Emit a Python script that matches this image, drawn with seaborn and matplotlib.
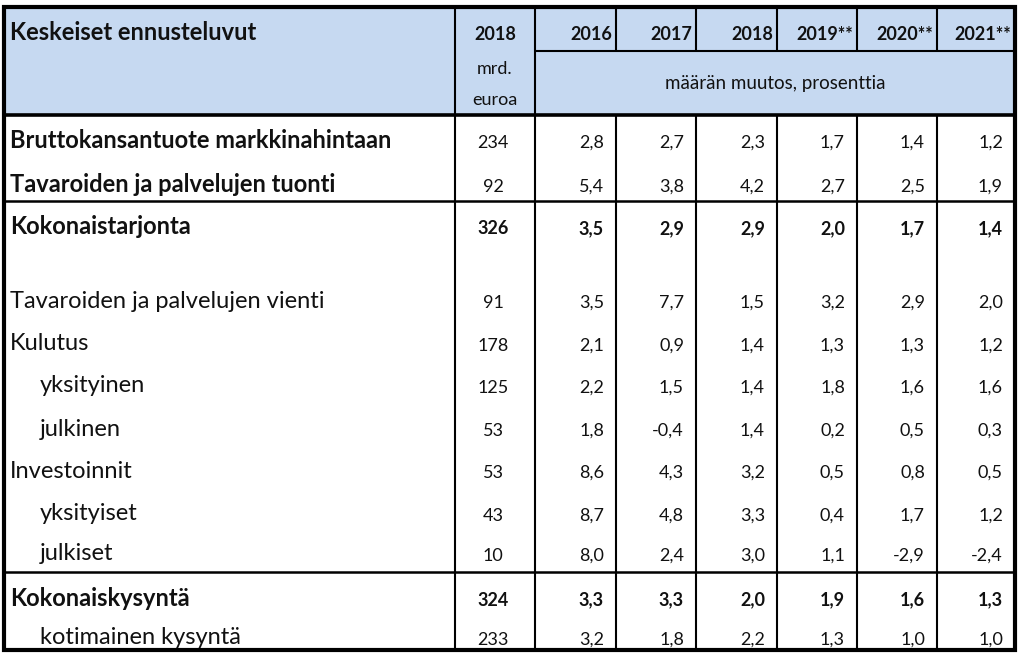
"""
Keskeiset ennusteluvut -taulukko (Excel-tyylinen) seabornilla / matplotlibilla.
"""

import matplotlib
matplotlib.use("Agg")
import matplotlib.pyplot as plt
from matplotlib.patches import Rectangle
import seaborn as sns

# --- data ---------------------------------------------------------------
title = "Keskeiset ennusteluvut"
years = ["2016", "2017", "2018", "2019**", "2020**", "2021**"]
level_year = "2018"
level_unit = ["mrd.", "euroa"]
subheader = "määrän muutos, prosenttia"

row_labels = [
    "Bruttokansantuote markkinahintaan",
    "Tavaroiden ja palvelujen tuonti",
    "Kokonaistarjonta",
    "",
    "Tavaroiden ja palvelujen vienti",
    "Kulutus",
    "yksityinen",
    "julkinen",
    "Investoinnit",
    "yksityiset",
    "julkiset",
    "Kokonaiskysyntä",
    "kotimainen kysyntä",
]
level_2018 = [234, 92, 326, None, 91, 178, 125, 53, 53, 43, 10, 324, 233]
growth = [
    [2.8, 2.7, 2.3, 1.7, 1.4, 1.2],
    [5.4, 3.8, 4.2, 2.7, 2.5, 1.9],
    [3.5, 2.9, 2.9, 2.0, 1.7, 1.4],
    None,
    [3.5, 7.7, 1.5, 3.2, 2.9, 2.0],
    [2.1, 0.9, 1.4, 1.3, 1.3, 1.2],
    [2.2, 1.5, 1.4, 1.8, 1.6, 1.6],
    [1.8, -0.4, 1.4, 0.2, 0.5, 0.3],
    [8.6, 4.3, 3.2, 0.5, 0.8, 0.5],
    [8.7, 4.8, 3.3, 0.4, 1.7, 1.2],
    [8.0, 2.4, 3.0, 1.1, -2.9, -2.4],
    [3.3, 3.3, 2.0, 1.9, 1.6, 1.3],
    [3.2, 1.8, 2.2, 1.3, 1.0, 1.0],
]
bold_labels = ["Bruttokansantuote markkinahintaan", "Tavaroiden ja palvelujen tuonti",
               "Kokonaistarjonta", "Kokonaiskysyntä"]
bold_numbers = ["Kokonaistarjonta", "Kokonaiskysyntä"]
indented = ["yksityinen", "julkinen", "yksityiset", "julkiset", "kotimainen kysyntä"]

# --- layout (pixels) ----------------------------------------------------
W, H = 1023, 664
left, right, top, bottom = 4, 1015, 7, 650
col_edges = [left, 455, 535, 616, 696, 777, 857, 937, right]
year_row_bottom = 51
header_bottom = 115
row_y = [141, 185, 227, 265, 301, 344, 386, 429, 471, 514, 554, 598, 638]
section_lines = [201, 572]

HEADER_BLUE = "#C6D9F1"
TEXT = "#111111"


def fmt(v):
    return f"{v:.1f}".replace(".", ",")


def main():
    sns.set_theme(style="white")
    plt.rcParams["font.family"] = ["Lato", "DejaVu Sans"]

    fig = plt.figure(figsize=(W / 100, H / 100), dpi=100)
    ax = fig.add_axes([0, 0, 1, 1])
    ax.set_xlim(0, W)
    ax.set_ylim(H, 0)
    ax.axis("off")

    # header fill
    ax.add_patch(Rectangle((left, top), right - left, header_bottom - top,
                           facecolor=HEADER_BLUE, edgecolor="none", zorder=0))

    lw_thin = 1.5
    lw_mid = 1.8
    lw_thick = 2.6

    # vertical lines
    for i, x in enumerate(col_edges[1:-1], start=1):
        if i <= 2:
            ax.plot([x, x], [top, bottom], color="black", lw=lw_thin, solid_capstyle="butt")
        else:
            ax.plot([x, x], [top, year_row_bottom], color="black", lw=lw_thin, solid_capstyle="butt")
            ax.plot([x, x], [header_bottom, bottom], color="black", lw=lw_thin, solid_capstyle="butt")

    # horizontal lines
    ax.plot([col_edges[2], right], [year_row_bottom] * 2, color="black", lw=lw_thin)
    ax.plot([left, right], [header_bottom] * 2, color="black", lw=lw_thick)
    for y in section_lines:
        ax.plot([left, right], [y, y], color="black", lw=lw_mid)

    # outer border
    ax.add_patch(Rectangle((left, top), right - left, bottom - top,
                           facecolor="none", edgecolor="black", lw=3.0, zorder=5))

    # header texts
    ax.text(10, 32, title, fontsize=17, fontweight="bold", va="center", ha="left", color=TEXT)
    xc = (col_edges[1] + col_edges[2]) / 2
    ax.text(xc, 35, level_year, fontsize=13, fontweight="bold", va="center", ha="center", color=TEXT)
    ax.text(xc, 69, level_unit[0], fontsize=13, va="center", ha="center", color=TEXT)
    ax.text(xc, 100, level_unit[1], fontsize=13, va="center", ha="center", color=TEXT)
    for j, yr in enumerate(years):
        ax.text(col_edges[j + 3] - 4, 35, yr, fontsize=13, fontweight="bold",
                va="center", ha="right", color=TEXT)
    ax.text((col_edges[2] + right) / 2, 84, subheader, fontsize=13.5,
            va="center", ha="center", color=TEXT)

    # body
    for label, lvl, vals, y in zip(row_labels, level_2018, growth, row_y):
        if not label:
            continue
        x0 = 40 if label in indented else 10
        weight = "bold" if label in bold_labels else "normal"
        ax.text(x0, y, label, fontsize=17, fontweight=weight, va="center", ha="left", color=TEXT)
        nweight = "bold" if label in bold_numbers else "normal"
        ax.text(xc - 2, y + 2, str(lvl), fontsize=13, fontweight=nweight,
                va="center", ha="center", color=TEXT)
        for j, v in enumerate(vals):
            ax.text(col_edges[j + 3] - 12, y + 2, fmt(v), fontsize=13, fontweight=nweight,
                    va="center", ha="right", color=TEXT)

    fig.savefig("out.png", dpi=100)
    plt.close(fig)


if __name__ == "__main__":
    main()
